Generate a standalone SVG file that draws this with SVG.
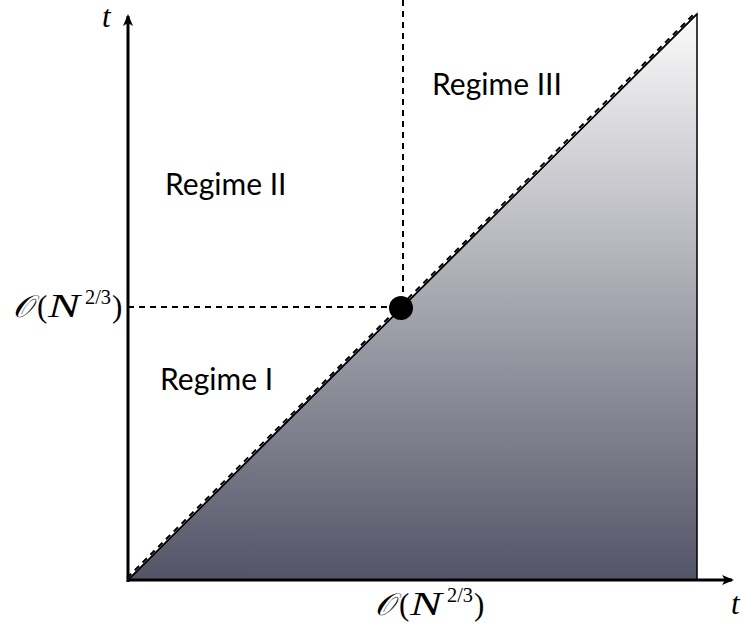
<svg xmlns="http://www.w3.org/2000/svg" width="742" height="623" viewBox="0 0 742 623">
<defs>
<linearGradient id="g" x1="0" y1="0" x2="0" y2="1">
<stop offset="0" stop-color="#fbfbfb"/>
<stop offset="1" stop-color="#545467"/>
</linearGradient>
<marker id="ah" markerWidth="12" markerHeight="10" refX="10" refY="5" orient="auto" markerUnits="userSpaceOnUse">
<path d="M0,0 L12,5 L0,10 L3,5 Z" fill="#000"/>
</marker>
<style>
.math{font-family:"Liberation Serif","DejaVu Serif",serif;font-size:31px;fill:#000}
.it{font-style:italic}
.sup{font-size:21px}
.lbl{font-family:"Lato","Open Sans",sans-serif;font-size:30px;fill:#000}
.dash{stroke:#000;stroke-width:2;stroke-dasharray:6,5;fill:none}
</style>
</defs>
<g id="region">
<polygon points="128,580 697,14 697,580" fill="url(#g)" stroke="#000" stroke-width="1.5"/>
</g>
<g id="connectors">
<line x1="128" y1="580" x2="697" y2="14" stroke="#000" stroke-width="1.5"/>
<line x1="127" y1="578" x2="695" y2="13" class="dash"/>
<line x1="128" y1="307" x2="400" y2="307" class="dash"/>
<line x1="403" y1="0" x2="403" y2="307" class="dash"/>
<line x1="128" y1="582" x2="128" y2="16" stroke="#000" stroke-width="3" marker-end="url(#ah)"/>
<line x1="127" y1="580" x2="732" y2="580" stroke="#000" stroke-width="3" marker-end="url(#ah)"/>
</g>
<g id="point">
<circle cx="401" cy="308" r="12" fill="#000"/>
</g>
<g id="labels">
<text x="102" y="27" class="math it">t</text>
<text x="731" y="614" class="math it">t</text>
<g id="label-left" class="math">
<text x="13" y="317" class="it">𝒪</text>
<text x="37" y="317">(</text>
<text x="48" y="317" class="it" font-size="33" textLength="32" lengthAdjust="spacingAndGlyphs">N</text>
<text x="85" y="304" class="sup" textLength="26" lengthAdjust="spacingAndGlyphs">2/3</text>
<text x="112" y="317">)</text>
</g>
<g id="label-bottom" class="math">
<text x="375" y="615" class="it">𝒪</text>
<text x="399" y="615">(</text>
<text x="410" y="615" class="it" font-size="33" textLength="32" lengthAdjust="spacingAndGlyphs">N</text>
<text x="447" y="602" class="sup" textLength="26" lengthAdjust="spacingAndGlyphs">2/3</text>
<text x="474" y="615">)</text>
</g>
<text x="432" y="95" class="lbl">Regime III</text>
<text x="165" y="195" class="lbl">Regime II</text>
<text x="160" y="390" class="lbl">Regime I</text>
</g>
</svg>
